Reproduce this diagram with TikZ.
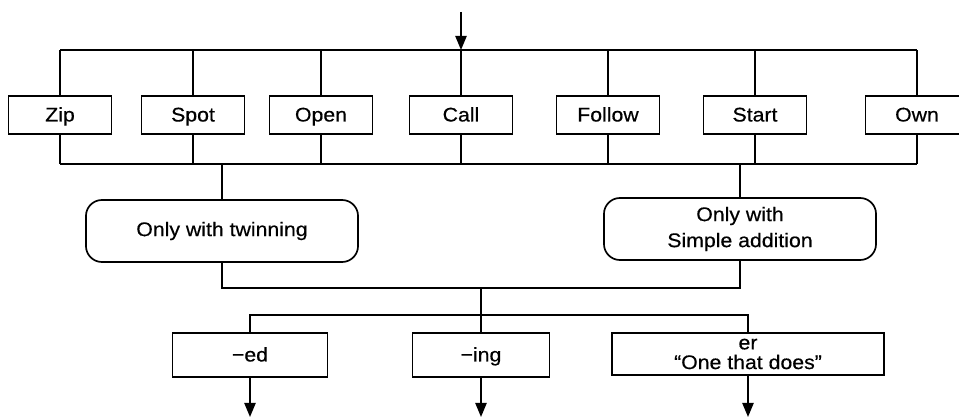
\documentclass[tikz,border=0pt]{standalone}
\usepackage{fontspec}
\setmainfont[FakeStretch=1.08,FakeBold=0.5]{Liberation Sans}
\usetikzlibrary{arrows.meta}
\begin{document}
\begin{tikzpicture}[x=0.025cm, y=-0.025cm,
  line width=1.2pt,
  stem/.style={draw, font=\fontsize{14}{16}\selectfont, minimum width=2.575cm, minimum height=0.95cm, inner sep=0pt, text height=10pt, text depth=0.8pt},
  rule/.style={draw, font=\fontsize{14}{18.5}\selectfont, rounded corners=0.4cm, minimum width=6.8cm, minimum height=1.55cm, align=center},
  suffix/.style={draw, font=\fontsize{14}{14}\selectfont, minimum height=1.1cm, inner sep=0pt, align=center},
  down/.style={-{Triangle[length=10pt,width=8pt]}}]
\useasboundingbox (0,0) rectangle (959,418);
\foreach \name/\word/\x in {zip/Zip/60, spot/Spot/193, open/Open/321, call/Call/461, follow/Follow/608, start/Start/755, own/Own/917}
  \node[stem] (\name) at (\x,115) {\word};
\coordinate (feed) at (461,12);
\coordinate (top) at (461,50);
\coordinate (bot) at (461,164);
\coordinate (floor) at (0,417);
\draw[down] (feed) -- (top);
\draw (zip.north |- top) -- (own.north |- top) (zip.south |- bot) -- (own.south |- bot);
\foreach \name in {zip,spot,open,call,follow,start,own}
  \draw (\name.north) -- (\name.north |- top) (\name.south) -- (\name.south |- bot);
\node[rule] (twin) at (222,231) {Only with twinning};
\node[rule] (simple) at (740,229) {Only with\\Simple addition};
\draw (twin.north) -- (twin.north |- bot) (simple.north) -- (simple.north |- bot);
\coordinate (merge) at (481,288);
\coordinate (split) at (481,315);
\draw (twin.south) |- (merge) -| (simple.south);
\draw (merge) -- (split);
\node[suffix, minimum width=3.875cm, text height=10pt, text depth=0.8pt] (ed) at (250,355) {−ed};
\node[suffix, minimum width=3.425cm, text height=10pt, text depth=0.8pt] (ing) at (481,355) {−ing};
\node[suffix, minimum width=6.8cm, minimum height=1.05cm] (er) at (748,354) {er\\“One that does”};
\draw (ed.north) |- (split) -| (er.north);
\draw (split) -- (ing.north);
\foreach \name in {ed,ing,er}
  \draw[down] (\name.south) -- (\name.south |- floor);
\end{tikzpicture}
\end{document}
